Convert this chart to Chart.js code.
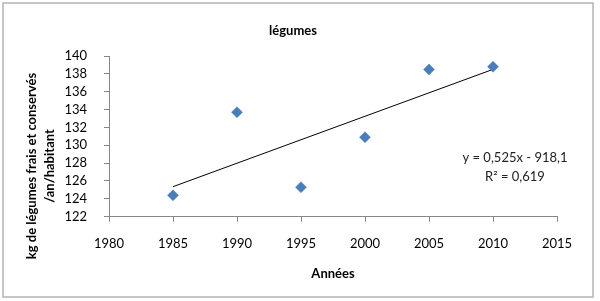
<!DOCTYPE html>
<html>
<head>
<meta charset="utf-8">
<script src="https://cdn.jsdelivr.net/npm/chart.js@4/dist/chart.umd.min.js"></script>
<style>
  html, body { margin: 0; padding: 0; background: #fff; }
  #wrap { position: relative; width: 600px; height: 301px; }
</style>
</head>
<body>
<div id="wrap"><canvas id="c" width="600" height="301"></canvas></div>
<script>
const years = [1985, 1990, 1995, 2000, 2005, 2010];
const values = [124.4, 133.7, 125.3, 130.9, 138.5, 138.8];
const xRange = [1980, 2015];
const yRange = [122, 140];
const chartTitle = 'légumes';
const xTitle = 'Années';
const yTitleLines = ['kg de légumes frais et conservés', '/an/habitant'];
const equationLines = ['y = 0,525x - 918,1', 'R² = 0,619'];

// linear regression from the data
const n = years.length;
const mx = years.reduce((a, b) => a + b, 0) / n;
const my = values.reduce((a, b) => a + b, 0) / n;
let sxy = 0, sxx = 0;
for (let i = 0; i < n; i++) { sxy += (years[i] - mx) * (values[i] - my); sxx += (years[i] - mx) ** 2; }
const slope = sxy / sxx, intercept = my - slope * mx;
const trendX = [years[0], years[n - 1]];
const trendPts = trendX.map(x => ({ x, y: slope * x + intercept }));

const FONT = 'Lato, "Liberation Sans", sans-serif';
const axisGray = '#868686';

const extras = {
  id: 'extras',
  afterDraw(chart) {
    const ctx = chart.ctx;
    ctx.save();
    // outer frame
    ctx.strokeStyle = '#b4b4b4';
    ctx.lineWidth = 1.5;
    ctx.strokeRect(3, 3, 590, 294);
    // title
    ctx.fillStyle = '#000';
    ctx.font = 'bold 13px ' + FONT;
    ctx.textAlign = 'center';
    ctx.textBaseline = 'middle';
    ctx.fillText(chartTitle, 293, 31);
    // y title
    ctx.save();
    ctx.translate(32, 166);
    ctx.rotate(-Math.PI / 2);
    ctx.fillText(yTitleLines[0], 0, 0);
    ctx.restore();
    ctx.save();
    ctx.translate(50, 166);
    ctx.rotate(-Math.PI / 2);
    ctx.fillText(yTitleLines[1], 0, 0);
    ctx.restore();
    // equation
    ctx.font = '13px ' + FONT;
    ctx.fillStyle = '#222';
    ctx.fillText(equationLines[0], 515, 158);
    ctx.fillText(equationLines[1], 515, 177);
    ctx.restore();
  }
};

new Chart(document.getElementById('c'), {
  type: 'scatter',
  data: {
    datasets: [
      {
        type: 'line',
        label: 'Tendance',
        data: trendPts,
        borderColor: '#000',
        borderWidth: 1,
        pointRadius: 0,
        fill: false,
        order: 2
      },
      {
        label: 'légumes',
        data: years.map((x, i) => ({ x, y: values[i] })),
        pointStyle: 'rectRot',
        pointRadius: 5.5,
        pointBackgroundColor: '#4a7ebb',
        pointBorderColor: '#4a7ebb',
        pointBorderWidth: 0.5,
        order: 1
      }
    ]
  },
  options: {
    responsive: false,
    animation: false,
    events: [],
    layout: { padding: { left: 0, right: 43, top: 56, bottom: 0 } },
    plugins: { legend: { display: false }, title: { display: false }, tooltip: { enabled: false } },
    scales: {
      x: {
        type: 'linear',
        min: xRange[0], max: xRange[1],
        afterFit(s) { s.height = 84.3; },
        ticks: { stepSize: 5, autoSkip: false, color: '#000', font: { family: FONT, size: 13 }, padding: 14,
                 callback: v => String(v), maxRotation: 0 },
        grid: { drawOnChartArea: false, drawTicks: true, tickLength: 5, color: axisGray },
        border: { color: axisGray, width: 1 },
        title: { display: true, text: xTitle, color: '#000', font: { family: FONT, size: 13, weight: 'bold' },
                 padding: { top: 0, bottom: 19 } }
      },
      y: {
        min: yRange[0], max: yRange[1],
        afterFit(s) { s.width = 109; },
        ticks: { stepSize: 2, autoSkip: false, color: '#000', font: { family: FONT, size: 13 }, padding: 17 },
        grid: { drawOnChartArea: false, drawTicks: true, tickLength: 5, color: axisGray },
        border: { color: axisGray, width: 1 }
      }
    }
  },
  plugins: [extras]
});
</script>
</body>
</html>
